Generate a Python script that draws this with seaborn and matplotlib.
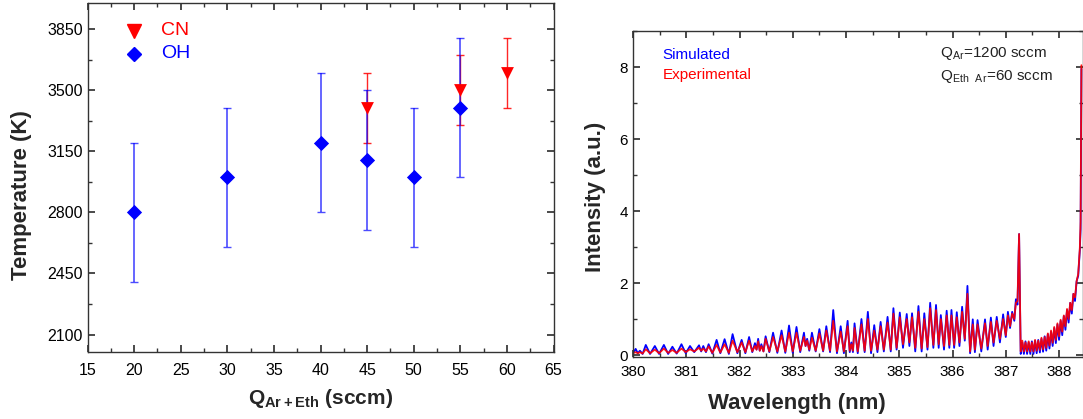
import matplotlib
matplotlib.use("Agg")
import matplotlib.pyplot as plt
from matplotlib.ticker import MultipleLocator
import seaborn as sns
import pandas as pd

# ---------------- data: left panel ----------------
oh_flow = [20, 30, 40, 45, 50, 55]
oh_temp = [2800, 3000, 3200, 3100, 3000, 3400]
oh_err = [400, 400, 400, 400, 400, 400]

cn_flow = [45, 55, 60]
cn_temp = [3400, 3500, 3600]
cn_err = [200, 200, 200]

x_ticks_left = [15, 20, 25, 30, 35, 40, 45, 50, 55, 60, 65]
y_ticks_left = [2100, 2450, 2800, 3150, 3500, 3850]

# ---------------- data: right panel (spectrum vertices) ----------------
wavelength = [
    380.00, 380.05, 380.09, 380.13, 380.18, 380.24, 380.32, 380.41, 380.49, 380.58,
    380.66, 380.74, 380.82, 380.91, 380.99, 381.07, 381.15, 381.24, 381.28, 381.32,
    381.37, 381.42, 381.49, 381.57, 381.64, 381.72, 381.80, 381.87, 381.96, 382.04,
    382.11, 382.18, 382.24, 382.29, 382.32, 382.35, 382.38, 382.41, 382.45, 382.49,
    382.56, 382.63, 382.71, 382.79, 382.86, 382.93, 383.00, 383.07, 383.14, 383.21,
    383.24, 383.27, 383.31, 383.36, 383.43, 383.50, 383.57, 383.63, 383.70, 383.76,
    383.83, 383.90, 383.96, 384.03, 384.07, 384.10, 384.13, 384.16, 384.22, 384.29,
    384.35, 384.41, 384.47, 384.53, 384.59, 384.65, 384.71, 384.78, 384.84, 384.89,
    384.95, 385.01, 385.07, 385.14, 385.19, 385.24, 385.30, 385.36, 385.42, 385.47,
    385.53, 385.58, 385.64, 385.69, 385.74, 385.78, 385.84, 385.89, 385.94, 385.98,
    386.03, 386.08, 386.13, 386.18, 386.23, 386.28, 386.33, 386.38, 386.42, 386.47,
    386.54, 386.61, 386.66, 386.72, 386.77, 386.83, 386.89, 386.95, 387.00, 387.04,
    387.08, 387.12, 387.16, 387.19, 387.22, 387.25, 387.28, 387.31, 387.34, 387.37,
    387.40, 387.43, 387.46, 387.49, 387.52, 387.55, 387.58, 387.61, 387.64, 387.67,
    387.70, 387.73, 387.76, 387.79, 387.82, 387.85, 387.88, 387.91, 387.94, 387.97,
    388.00, 388.03, 388.06, 388.09, 388.12, 388.15, 388.18, 388.21, 388.24, 388.27,
    388.30, 388.33, 388.36, 388.39, 388.405, 388.42,
]
simulated = [
    0.05, 0.17, 0.05, 0.12, 0.03, 0.28, 0.03, 0.25, 0.03, 0.28,
    0.03, 0.23, 0.04, 0.30, 0.05, 0.25, 0.08, 0.27, 0.10, 0.25,
    0.08, 0.30, 0.04, 0.42, 0.05, 0.44, 0.03, 0.58, 0.05, 0.42,
    0.05, 0.50, 0.08, 0.33, 0.15, 0.45, 0.12, 0.30, 0.10, 0.52,
    0.08, 0.62, 0.06, 0.68, 0.06, 0.82, 0.06, 0.78, 0.08, 0.62,
    0.25, 0.45, 0.12, 0.62, 0.10, 0.72, 0.10, 0.80, 0.08, 1.25,
    0.05, 0.80, 0.05, 0.95, 0.08, 0.35, 0.08, 0.88, 0.05, 1.00,
    0.08, 1.20, 0.05, 0.83, 0.08, 0.92, 0.10, 1.06, 0.10, 1.30,
    0.15, 1.18, 0.20, 1.14, 0.25, 1.16, 0.10, 1.36, 0.10, 1.16,
    0.15, 1.45, 0.20, 1.39, 0.20, 1.11, 0.15, 1.23, 0.20, 1.25,
    0.20, 1.19, 0.25, 1.34, 0.40, 1.92, 0.05, 0.99, 0.08, 0.97,
    0.10, 0.99, 0.15, 1.04, 0.25, 1.06, 0.35, 1.13, 0.50, 1.20,
    0.75, 1.20, 0.95, 1.55, 1.40, 3.36, 0.03, 0.35, 0.03, 0.38,
    0.03, 0.35, 0.03, 0.38, 0.03, 0.40, 0.05, 0.42, 0.07, 0.45,
    0.09, 0.52, 0.12, 0.58, 0.18, 0.65, 0.25, 0.75, 0.33, 0.85,
    0.42, 0.95, 0.55, 1.08, 0.70, 1.25, 0.90, 1.45, 1.15, 1.70,
    1.50, 2.05, 2.20, 2.90, 3.50, 7.95,
]
experimental = [
    0.05, 0.08, 0.05, 0.08, 0.04, 0.16, 0.05, 0.15, 0.05, 0.18,
    0.06, 0.14, 0.06, 0.18, 0.08, 0.16, 0.10, 0.20, 0.12, 0.18,
    0.10, 0.24, 0.06, 0.28, 0.07, 0.30, 0.06, 0.40, 0.08, 0.35,
    0.08, 0.40, 0.10, 0.25, 0.15, 0.38, 0.12, 0.25, 0.10, 0.45,
    0.10, 0.50, 0.10, 0.55, 0.10, 0.62, 0.10, 0.62, 0.12, 0.50,
    0.25, 0.40, 0.15, 0.48, 0.12, 0.60, 0.12, 0.68, 0.12, 0.95,
    0.10, 0.65, 0.10, 0.80, 0.12, 0.30, 0.12, 0.75, 0.10, 0.85,
    0.12, 1.00, 0.12, 0.68, 0.15, 0.80, 0.15, 0.90, 0.15, 1.15,
    0.20, 1.05, 0.30, 1.00, 0.35, 1.05, 0.20, 1.20, 0.18, 1.00,
    0.22, 1.30, 0.28, 1.25, 0.30, 1.00, 0.25, 1.10, 0.28, 1.10,
    0.28, 1.05, 0.35, 1.20, 0.45, 1.70, 0.10, 0.85, 0.15, 0.85,
    0.18, 0.88, 0.25, 0.92, 0.35, 0.95, 0.45, 1.00, 0.55, 1.10,
    0.80, 1.15, 1.00, 1.45, 1.50, 3.36, 0.10, 0.40, 0.10, 0.35,
    0.10, 0.38, 0.10, 0.35, 0.10, 0.42, 0.12, 0.40, 0.14, 0.48,
    0.16, 0.50, 0.20, 0.60, 0.26, 0.68, 0.34, 0.78, 0.42, 0.88,
    0.52, 0.98, 0.65, 1.10, 0.80, 1.28, 1.00, 1.45, 1.25, 1.70,
    1.60, 2.05, 2.25, 2.95, 3.70, 8.05,
]

x_ticks_right = [380, 381, 382, 383, 384, 385, 386, 387, 388]
y_ticks_right = [0, 2, 4, 6, 8]

# ---------------- style ----------------
sns.set_theme(style="ticks")
plt.rcParams["font.family"] = ["Liberation Sans", "DejaVu Sans"]
plt.rcParams["mathtext.fontset"] = "custom"
plt.rcParams["mathtext.rm"] = "Liberation Sans"
plt.rcParams["mathtext.bf"] = "Liberation Sans:bold"
plt.rcParams["axes.linewidth"] = 1.0
plt.rcParams["axes.edgecolor"] = "#333333"

BLUE = "#0000ff"
RED = "#ff0000"

fig = plt.figure(figsize=(10.83, 4.19), dpi=100)
axL = fig.add_axes([87.5 / 1083, 1 - 352 / 419, 466 / 1083, 349 / 419])
axR = fig.add_axes([633 / 1083, 1 - 357 / 419, 450 / 1083, 326 / 419])

# ---------------- left panel ----------------
df_oh = pd.DataFrame({"flow": oh_flow, "temp": oh_temp, "err": oh_err})
df_cn = pd.DataFrame({"flow": cn_flow, "temp": cn_temp, "err": cn_err})

axL.errorbar(df_cn["flow"], df_cn["temp"], yerr=df_cn["err"], fmt="none",
             ecolor=RED, elinewidth=1.0, capsize=2.6, capthick=1.0, alpha=0.85, zorder=2)
axL.errorbar(df_oh["flow"], df_oh["temp"], yerr=df_oh["err"], fmt="none",
             ecolor=BLUE, elinewidth=1.2, capsize=2.6, capthick=1.0, alpha=0.7, zorder=2)
sns.scatterplot(data=df_cn, x="flow", y="temp", marker="v", s=85, color=RED,
                edgecolor=RED, linewidth=0, ax=axL, zorder=3, legend=False)
sns.scatterplot(data=df_oh, x="flow", y="temp", marker="D", s=60, color=BLUE,
                edgecolor=BLUE, linewidth=0, ax=axL, zorder=4, legend=False)

axL.set_xlim(15, 65)
axL.set_ylim(2000, 4000)
axL.set_xticks(x_ticks_left)
axL.set_yticks(y_ticks_left)
axL.xaxis.set_minor_locator(MultipleLocator(2.5))
axL.yaxis.set_minor_locator(MultipleLocator(175))
axL.tick_params(which="both", direction="in", top=True, right=True, labelsize=11.5,
                colors="#333333", labelcolor="black")
axL.tick_params(which="major", length=5)
axL.tick_params(which="minor", length=3)
axL.tick_params(axis="x", pad=8)
axL.set_xlabel(r"$\mathbf{Q_{Ar+Eth}}$ (sccm)", fontsize=15, fontweight="bold")
axL.set_ylabel("Temperature (K)", fontsize=16, fontweight="bold")
axL.xaxis.set_label_coords(0.5, -0.1)
axL.yaxis.set_label_coords(-0.12, 0.45)

# legend (drawn in axes coordinates)
axL.plot([0.10], [0.92], marker="v", markersize=10, color=RED, linestyle="none",
         transform=axL.transAxes, clip_on=False)
axL.plot([0.10], [0.855], marker="D", markersize=7.5, color=BLUE, linestyle="none",
         transform=axL.transAxes, clip_on=False)
axL.text(0.158, 0.92, "CN", color=RED, fontsize=14, transform=axL.transAxes,
         va="center", ha="left")
axL.text(0.158, 0.855, "OH", color=BLUE, fontsize=14, transform=axL.transAxes,
         va="center", ha="left")

# ---------------- right panel ----------------
df_spec = pd.DataFrame({"wl": wavelength, "sim": simulated, "exp": experimental})
sns.lineplot(data=df_spec, x="wl", y="sim", color=BLUE, linewidth=1.3, ax=axR,
             estimator=None, sort=False)
sns.lineplot(data=df_spec, x="wl", y="exp", color=RED, linewidth=1.3, ax=axR,
             estimator=None, sort=False, alpha=0.9)

axR.set_xlim(380, 388.45)
axR.set_ylim(-0.055, 9.0)
axR.set_xticks(x_ticks_right)
axR.set_yticks(y_ticks_right)
axR.xaxis.set_minor_locator(MultipleLocator(0.5))
axR.yaxis.set_minor_locator(MultipleLocator(1))
axR.tick_params(which="both", direction="in", top=True, right=True, labelsize=11,
                colors="#333333", labelcolor="black")
axR.tick_params(which="major", length=5)
axR.tick_params(which="minor", length=3)
axR.tick_params(axis="x", pad=6)
axR.set_xlabel("Wavelength (nm)", fontsize=16, fontweight="bold")
axR.set_ylabel("Intensity (a.u.)", fontsize=16, fontweight="bold")
axR.xaxis.set_label_coords(0.365, -0.11)
axR.yaxis.set_label_coords(-0.06, 0.49)

axR.text(0.065, 0.925, "Simulated", color=BLUE, fontsize=11, transform=axR.transAxes,
         va="center", ha="left")
axR.text(0.065, 0.865, "Experimental", color=RED, fontsize=11, transform=axR.transAxes,
         va="center", ha="left")
axR.text(0.682, 0.93, r"Q$_{\mathrm{Ar}}$=1200 sccm", color="#222222", fontsize=11,
         transform=axR.transAxes, va="center", ha="left")
axR.text(0.682, 0.86, r"Q$_{\mathrm{Eth\ \ Ar}}$=60 sccm", color="#222222", fontsize=11,
         transform=axR.transAxes, va="center", ha="left")

fig.savefig("out.png", dpi=100)
